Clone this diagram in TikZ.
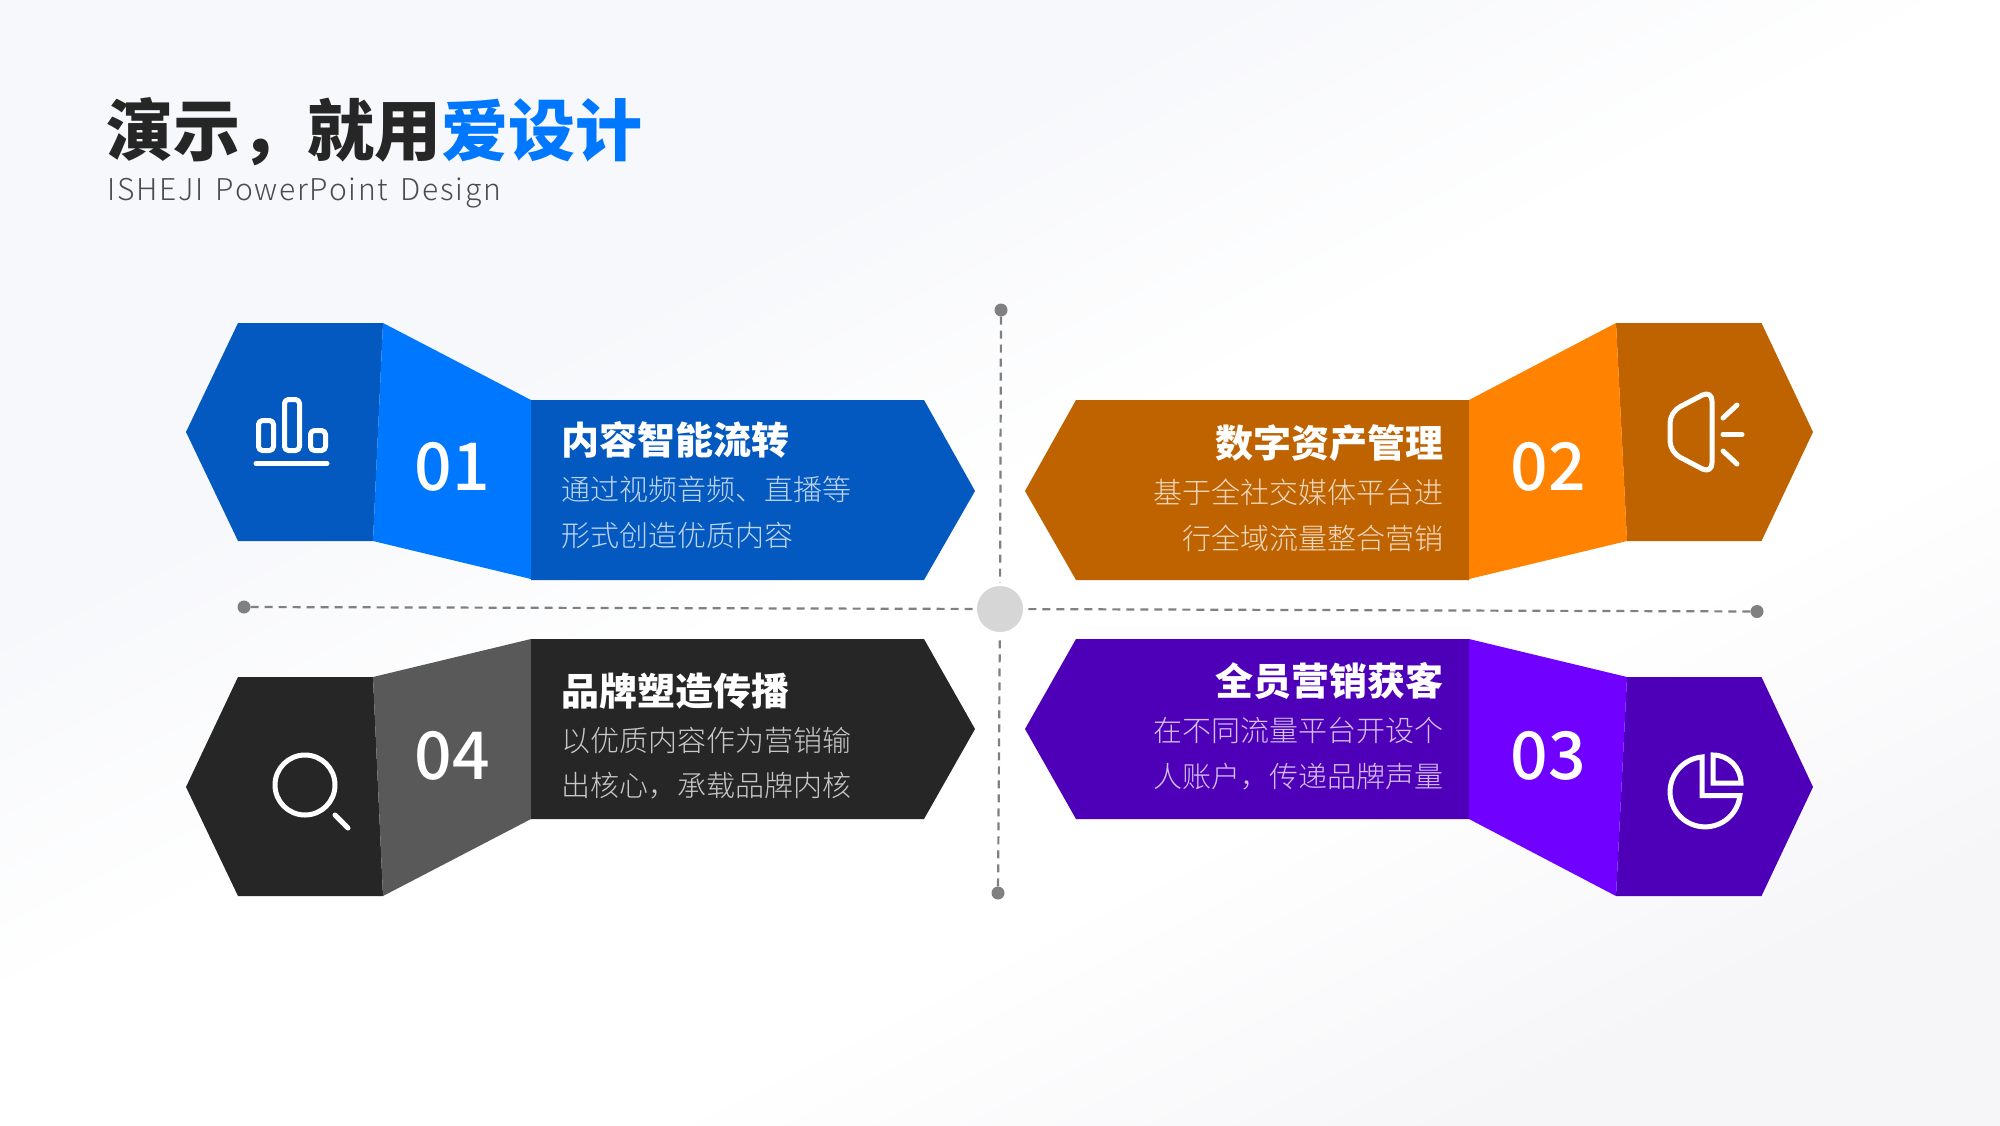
\documentclass[tikz,border=0pt]{standalone}
\usepackage{fontspec}
\setmainfont{Noto Sans CJK SC}
\newfontfamily\lightfont{Noto Sans CJK SC Light}
\newfontfamily\medfont{Noto Sans CJK SC Medium}
\newfontfamily\subfont[LetterSpace=6,WordSpace=1.4]{Noto Sans CJK SC Light}
\definecolor{blueDark}{HTML}{0359BF}
\definecolor{blueLight}{HTML}{0077FF}
\definecolor{orangeDark}{HTML}{BF6300}
\definecolor{orangeLight}{HTML}{FF8200}
\definecolor{purpleDark}{HTML}{4E00B8}
\definecolor{purpleLight}{HTML}{7000FF}
\definecolor{greyDark}{HTML}{262626}
\definecolor{greyLight}{HTML}{595959}
\definecolor{paperTop}{HTML}{F7F8FB}
\definecolor{paperEnd}{HTML}{F6F6F9}
\pgfdeclareverticalshading{paper}{100bp}{color(0bp)=(paperEnd); color(25bp)=(paperEnd); color(38bp)=(white); color(52bp)=(white); color(64bp)=(paperTop); color(100bp)=(paperTop)}
\tikzset{
  headtext/.style={font=\bfseries\fontsize{38}{38}\selectfont, text=white, inner sep=0pt},
  bodytext/.style={font=\lightfont\fontsize{29}{29}\selectfont, text=white, text opacity=0.75, inner sep=0pt},
  numtext/.style={font=\medfont\fontsize{66}{66}\selectfont, text=white, inner sep=0pt},
  icon/.style={draw=white, line width=5pt, line join=round, line cap=round},
  guide/.style={draw=black!50, line width=2.2pt, dash pattern=on 8pt off 6pt},
  enddot/.style={circle, fill=black!50, inner sep=0pt, minimum width=13pt},
}
\begin{document}
\begin{tikzpicture}[x=1pt, y=-1pt]
        \useasboundingbox (0,0) rectangle (2000,1125);
        \shade[shading=paper, shading angle=27] (0,0) rectangle (2000,1125);

        % guide lines
        \node[enddot] (dotN) at (1001,310) {};
        \node[enddot] (dotS) at (998,893) {};
        \node[enddot] (dotW) at (244,607) {};
        \node[enddot] (dotE) at (1757,611.5) {};
        \node[circle, fill=black!16, inner sep=0pt, minimum width=46pt] (hub) at (1000,609) {};
        \draw[guide, shorten >=3pt] (dotN) -- (hub);
        \draw[guide, shorten >=3pt] (dotS) -- (hub);
        \draw[guide, shorten >=3pt] (dotW) -- (hub);
        \draw[guide, shorten >=3pt] (dotE) -- (hub);

        % panel 01
        \fill[blueDark] (186,432) -- (238,323) -- (383,323) -- (373,541) -- (238,541) -- cycle;
        \fill[blueLight] (383,323) -- (531,400) -- (531,579) -- (373,541) -- cycle;
        \fill[blueDark] (531,400) -- (924,400) -- (975,491) -- (924,580) -- (531,580) -- cycle;
        \node[numtext] (numA) at (452,467) {01};
        \node[headtext, anchor=west] (headA) at (561,440) {内容智能流转};
        \node[bodytext, anchor=west] (bodyA) at (561,489) {通过视频音频、直播等};
        \node[bodytext, anchor=west] (bodyAA) at (561,535) {形式创造优质内容};

        % panel 02
        \fill[orangeDark] (1813,432) -- (1761.5,323) -- (1616,323) -- (1627,541) -- (1761.5,541) -- cycle;
        \fill[orangeLight] (1616,323) -- (1469,400) -- (1469,579) -- (1627,541) -- cycle;
        \fill[orangeDark] (1469,400) -- (1076,400) -- (1025,491) -- (1076,580) -- (1469,580) -- cycle;
        \node[numtext] (numB) at (1548,467) {02};
        \node[headtext, anchor=east] (headB) at (1444,443) {数字资产管理};
        \node[bodytext, anchor=east] (bodyB) at (1444,492) {基于全社交媒体平台进};
        \node[bodytext, anchor=east] (bodyBB) at (1444,538) {行全域流量整合营销};

        % panel 03
        \fill[purpleDark] (1813,787) -- (1761.5,677) -- (1627,677) -- (1616,896) -- (1761.5,896) -- cycle;
        \fill[purpleLight] (1627,677) -- (1469,639) -- (1469,819) -- (1616,896) -- cycle;
        \fill[purpleDark] (1469,639) -- (1076,639) -- (1025,729) -- (1076,819) -- (1469,819) -- cycle;
        \node[numtext] (numC) at (1548,756) {03};
        \node[headtext, anchor=east] (headC) at (1444,681) {全员营销获客};
        \node[bodytext, anchor=east] (bodyC) at (1444,731) {在不同流量平台开设个};
        \node[bodytext, anchor=east] (bodyCC) at (1444,777) {人账户，传递品牌声量};

        % panel 04
        \fill[greyDark] (186,787) -- (238,677) -- (373,677) -- (383,896) -- (238,896) -- cycle;
        \fill[greyLight] (373,677) -- (531,639) -- (531,819) -- (383,896) -- cycle;
        \fill[greyDark] (531,639) -- (924,639) -- (975,729) -- (924,819) -- (531,819) -- cycle;
        \node[numtext] (numD) at (452,756) {04};
        \node[headtext, anchor=west] (headD) at (561,691) {品牌塑造传播};
        \node[bodytext, anchor=west] (bodyD) at (561,740) {以优质内容作为营销输};
        \node[bodytext, anchor=west] (bodyDD) at (561,786) {出核心，承载品牌内核};

        % icons
        \draw[icon, rounded corners=4pt] (258.5,420.5) rectangle (273.5,450.5);
        \draw[icon, rounded corners=4pt] (284.5,399.5) rectangle (299.5,450.5);
        \draw[icon, rounded corners=4pt] (310.5,430.5) rectangle (325.5,450.5);
        \draw[icon] (256,463.5) -- (327,463.5);

        \draw[icon, rounded corners=11pt] (1670,412) -- (1712,390) -- (1712,474) -- (1670,452) -- cycle;
        \draw[icon] (1723,418) -- (1737,405);
        \draw[icon] (1723,434.5) -- (1742,434.5);
        \draw[icon] (1723,451) -- (1737,464);

        \draw[icon, line cap=butt, line join=miter] (1702,757) arc[start angle=95, end angle=354, radius=35pt] -- (1702,795.7) -- cycle;
        \draw[icon, line cap=butt, line join=miter] (1713,755) arc[start angle=90, end angle=0, radius=28pt] -- (1713,783) -- cycle;

        \draw[icon] (305,785) circle[radius=30pt];
        \draw[icon] (335,815) -- (348,828);

        % heading
        \node[anchor=west, inner sep=0pt, font=\bfseries\fontsize{67}{67}\selectfont, text=greyDark] (title) at (106,132) {演示，就用\textcolor{blueLight}{爱设计}};
        \node[anchor=west, inner sep=0pt, font=\subfont\fontsize{30}{30}\selectfont, text=black!70] (subtitle) at (107,193) {ISHEJI PowerPoint Design};
\end{tikzpicture}
\end{document}
